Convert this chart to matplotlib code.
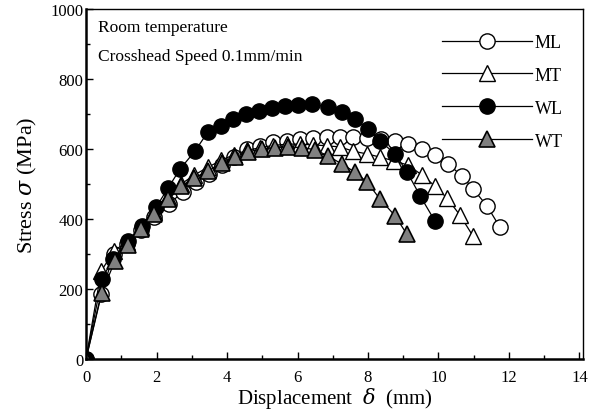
import numpy as np
import matplotlib
matplotlib.use("Agg")
from matplotlib import pyplot as plt
from matplotlib.ticker import MultipleLocator

plt.rcParams['font.family'] = ['Liberation Serif', 'DejaVu Serif']
plt.rcParams['mathtext.fontset'] = 'dejavuserif'

# displacement (mm) / stress (MPa)
ml_x = [0, 0.43, 0.79, 1.17, 1.55, 1.93, 2.35, 2.75, 3.12, 3.5, 3.86, 4.2, 4.57, 4.94, 5.3,
        5.7, 6.07, 6.44, 6.84, 7.21, 7.57, 7.97, 8.37, 8.77, 9.13, 9.53, 9.9, 10.27, 10.67,
        10.98, 11.38, 11.74]
ml_y = [0, 186, 300, 330, 370, 405, 443, 477, 506, 530, 555, 578, 600, 609, 620,
        623, 629, 631, 634, 634, 634, 631, 629, 623, 614, 600, 583, 557, 523,
        486, 437, 377]

mt_x = [0, 0.43, 0.79, 1.17, 1.55, 1.93, 2.33, 2.7, 3.06, 3.46, 3.84, 4.2, 4.57, 4.94, 5.3,
        5.7, 6.07, 6.44, 6.84, 7.21, 7.57, 7.97, 8.34, 8.74, 9.13, 9.53, 9.9, 10.24, 10.61,
        10.98]
mt_y = [0, 251, 309, 335, 378, 420, 462, 500, 525, 548, 568, 584, 596, 604, 610,
        614, 614, 612, 609, 606, 594, 586, 577, 566, 554, 526, 494, 460, 411,
        351]

wl_x = [0, 0.45, 0.77, 1.19, 1.59, 1.99, 2.33, 2.67, 3.09, 3.46, 3.82, 4.18, 4.55, 4.92,
        5.28, 5.65, 6.02, 6.4, 6.87, 7.26, 7.63, 8.0, 8.34, 8.77, 9.11, 9.48, 9.9]
wl_y = [0, 229, 286, 337, 380, 434, 489, 543, 594, 649, 666, 686, 700, 709,
        718, 723, 727, 728, 720, 706, 686, 657, 623, 586, 534, 466, 394]

wt_x = [0, 0.45, 0.82, 1.19, 1.56, 1.93, 2.33, 2.7, 3.06, 3.46, 3.86, 4.23, 4.6, 4.99,
        5.36, 5.73, 6.13, 6.5, 6.87, 7.26, 7.63, 7.97, 8.34, 8.77, 9.1]
wt_y = [0, 190, 280, 325, 371, 414, 457, 494, 517, 537, 560, 578, 592, 600,
        604, 606, 604, 598, 580, 557, 534, 506, 457, 409, 357]

fig = plt.figure(figsize=(5.92, 4.14), dpi=100)
ax = fig.add_axes([0.1453, 0.1304, 0.8395, 0.8454])

ms = 11
ax.plot(ml_x, ml_y, '-', color='black', lw=0.9, marker='o', ms=ms, mfc='white',
        mec='black', mew=1.0, label='ML')
ax.plot(mt_x, mt_y, '-', color='black', lw=0.9, marker='^', ms=ms + 1, mfc='white',
        mec='black', mew=1.0, label='MT')
ax.plot(wl_x, wl_y, '-', color='black', lw=0.9, marker='o', ms=ms, mfc='black',
        mec='black', mew=1.0, label='WL')
ax.plot(wt_x, wt_y, '-', color='black', lw=0.9, marker='^', ms=ms + 1, mfc='0.5',
        mec='black', mew=1.2, label='WT')

ax.set_xlim(0, 14.1)
ax.set_ylim(0, 1000)
ax.xaxis.set_major_locator(MultipleLocator(2))
ax.xaxis.set_minor_locator(MultipleLocator(1))
ax.yaxis.set_major_locator(MultipleLocator(200))
ax.yaxis.set_minor_locator(MultipleLocator(100))
ax.tick_params(which='both', direction='in', labelsize=12, top=False, right=False)
ax.tick_params(which='major', length=5, width=1)
ax.tick_params(which='minor', length=3, width=1)
ax.tick_params(axis='x', pad=7)
ax.tick_params(axis='y', pad=2)

for side in ['left', 'bottom']:
    ax.spines[side].set_linewidth(1.8)
for side in ['top', 'right']:
    ax.spines[side].set_linewidth(1.0)

ax.set_xlabel(r'Displacement  $\delta$  (mm)', fontsize=15, labelpad=0)
ax.set_ylabel(r'Stress $\sigma$ (MPa)', fontsize=16, labelpad=8)

ax.text(0.025, 0.948, 'Room temperature', transform=ax.transAxes, fontsize=12.5,
        va='center')
ax.text(0.025, 0.866, 'Crosshead Speed 0.1mm/min', transform=ax.transAxes,
        fontsize=12.5, va='center')

ax.legend(loc='upper right', bbox_to_anchor=(0.985, 0.965), frameon=False, fontsize=13,
          handlelength=5.0, handletextpad=0.15, labelspacing=0.88, borderaxespad=0.3)

plt.savefig('out.png', dpi=100)
